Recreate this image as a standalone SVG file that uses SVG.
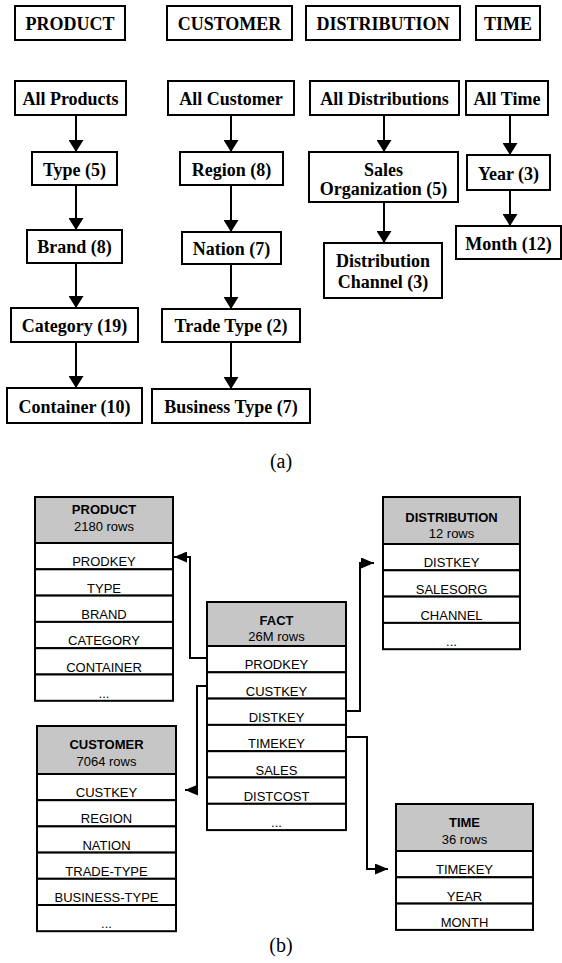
<svg xmlns="http://www.w3.org/2000/svg" width="562" height="963" viewBox="0 0 562 963">
<style>
.b{fill:#fff;stroke:#000;stroke-width:2}
.t{font-family:"Liberation Serif","Times New Roman",serif;font-weight:bold;font-size:18px;text-anchor:middle;fill:#000}
.cap{font-family:"Liberation Serif","Times New Roman",serif;font-size:20px;text-anchor:middle;fill:#000}
.h{fill:#c6c6c6;stroke:#000;stroke-width:2}
.r{fill:#fff;stroke:#000;stroke-width:2}
.s{font-family:"Liberation Sans",Arial,sans-serif;font-size:13px;text-anchor:middle;fill:#000}
.sb{font-weight:bold}
.c{fill:none;stroke:#000;stroke-width:2}
.ca{fill:none;stroke:#000;stroke-width:2;marker-end:url(#ah)}
.cb{fill:none;stroke:#000;stroke-width:2;marker-end:url(#bh)}
</style>
<defs>
<marker id="ah" markerUnits="userSpaceOnUse" viewBox="0 0 12 15" markerWidth="12" markerHeight="15" refX="12" refY="7.5" orient="auto">
<path d="M0,0 L12,7.5 L0,15 Z" fill="#000"/>
</marker>
<marker id="bh" markerUnits="userSpaceOnUse" viewBox="0 0 13 11" markerWidth="13" markerHeight="11" refX="13" refY="5.5" orient="auto">
<path d="M0,0 L13,5.5 L0,11 Z" fill="#000"/>
</marker>
</defs>
<rect width="562" height="963" fill="#fff"/>

<!-- (a) dimension hierarchies -->
<g id="hdr-product"><rect class="b" x="15" y="6" width="110" height="34"/><text class="t" x="70" y="30">PRODUCT</text></g>
<g id="hdr-customer"><rect class="b" x="167" y="6" width="125" height="34"/><text class="t" x="229.5" y="30">CUSTOMER</text></g>
<g id="hdr-distribution"><rect class="b" x="306" y="6" width="154" height="34"/><text class="t" x="383" y="30">DISTRIBUTION</text></g>
<g id="hdr-time"><rect class="b" x="476" y="6" width="64" height="34"/><text class="t" x="508" y="30">TIME</text></g>

<g id="all-products"><rect class="b" x="15" y="81" width="111" height="34"/><text class="t" x="70.5" y="105">All Products</text></g>
<g id="all-customer"><rect class="b" x="168" y="81" width="126" height="34"/><text class="t" x="231" y="105">All Customer</text></g>
<g id="all-distributions"><rect class="b" x="310" y="81" width="149" height="34"/><text class="t" x="384.5" y="105">All Distributions</text></g>
<g id="all-time"><rect class="b" x="466" y="81" width="82" height="34"/><text class="t" x="507" y="105">All Time</text></g>

<g id="type"><rect class="b" x="32" y="152" width="85" height="33"/><text class="t" x="74.5" y="176">Type (5)</text></g>
<g id="region"><rect class="b" x="180" y="152" width="103" height="33"/><text class="t" x="231.5" y="176">Region (8)</text></g>
<g id="sales-org"><rect class="b" x="309" y="152" width="149" height="50"/><text class="t" x="383.5" y="176">Sales</text><text class="t" x="383.5" y="195">Organization (5)</text></g>
<g id="year"><rect class="b" x="467" y="155" width="83" height="35"/><text class="t" x="508.5" y="180">Year (3)</text></g>

<g id="brand"><rect class="b" x="27" y="230" width="95" height="33"/><text class="t" x="74.5" y="253">Brand (8)</text></g>
<g id="nation"><rect class="b" x="182" y="232" width="99" height="32"/><text class="t" x="231.5" y="255">Nation (7)</text></g>
<g id="dist-channel"><rect class="b" x="324" y="243" width="118" height="55"/><text class="t" x="383" y="267">Distribution</text><text class="t" x="383" y="288">Channel (3)</text></g>
<g id="month"><rect class="b" x="456" y="226" width="105" height="33"/><text class="t" x="508.5" y="250">Month (12)</text></g>

<g id="category"><rect class="b" x="11" y="308" width="127" height="34"/><text class="t" x="74.5" y="332">Category (19)</text></g>
<g id="trade-type"><rect class="b" x="162" y="309" width="138" height="33"/><text class="t" x="231" y="332">Trade Type (2)</text></g>

<g id="container"><rect class="b" x="7" y="388" width="135" height="35"/><text class="t" x="74.5" y="413">Container (10)</text></g>
<g id="business-type"><rect class="b" x="152" y="389" width="158" height="34"/><text class="t" x="231" y="413">Business Type (7)</text></g>

<text class="cap" x="281" y="468">(a)</text>

<!-- (b) star schema -->
<g id="t-product">
<rect class="h" x="35" y="497" width="138" height="46"/>
<text class="s sb" x="104" y="514">PRODUCT</text>
<text class="s" x="104" y="531">2180 rows</text>
<rect class="r" x="35" y="543" width="138" height="26.3"/><text class="s" x="104" y="566.3">PRODKEY</text>
<rect class="r" x="35" y="569.3" width="138" height="26.3"/><text class="s" x="104" y="592.6">TYPE</text>
<rect class="r" x="35" y="595.6" width="138" height="26.3"/><text class="s" x="104" y="618.9">BRAND</text>
<rect class="r" x="35" y="621.9" width="138" height="26.3"/><text class="s" x="104" y="645.2">CATEGORY</text>
<rect class="r" x="35" y="648.2" width="138" height="26.3"/><text class="s" x="104" y="671.5">CONTAINER</text>
<rect class="r" x="35" y="674.5" width="138" height="26.3"/><text class="s" x="104" y="697.8">...</text>
</g>

<g id="t-distribution">
<rect class="h" x="383" y="497" width="137" height="47"/>
<text class="s sb" x="451.5" y="522">DISTRIBUTION</text>
<text class="s" x="451.5" y="538">12 rows</text>
<rect class="r" x="383" y="544" width="137" height="26.3"/><text class="s" x="451.5" y="567.3">DISTKEY</text>
<rect class="r" x="383" y="570.3" width="137" height="26.3"/><text class="s" x="451.5" y="593.6">SALESORG</text>
<rect class="r" x="383" y="596.6" width="137" height="26.3"/><text class="s" x="451.5" y="619.9">CHANNEL</text>
<rect class="r" x="383" y="622.9" width="137" height="26.3"/><text class="s" x="451.5" y="646.2">...</text>
</g>

<g id="t-fact">
<rect class="h" x="207" y="602" width="139" height="44"/>
<text class="s sb" x="276.5" y="625">FACT</text>
<text class="s" x="276.5" y="641">26M rows</text>
<rect class="r" x="207" y="646" width="139" height="26.3"/><text class="s" x="276.5" y="669.3">PRODKEY</text>
<rect class="r" x="207" y="672.3" width="139" height="26.3"/><text class="s" x="276.5" y="695.6">CUSTKEY</text>
<rect class="r" x="207" y="698.6" width="139" height="26.3"/><text class="s" x="276.5" y="721.9">DISTKEY</text>
<rect class="r" x="207" y="724.9" width="139" height="26.3"/><text class="s" x="276.5" y="748.2">TIMEKEY</text>
<rect class="r" x="207" y="751.2" width="139" height="26.3"/><text class="s" x="276.5" y="774.5">SALES</text>
<rect class="r" x="207" y="777.5" width="139" height="26.3"/><text class="s" x="276.5" y="800.8">DISTCOST</text>
<rect class="r" x="207" y="803.8" width="139" height="26.3"/><text class="s" x="276.5" y="827.1">...</text>
</g>

<g id="t-customer">
<rect class="h" x="37" y="726" width="139" height="48"/>
<text class="s sb" x="106.5" y="749">CUSTOMER</text>
<text class="s" x="106.5" y="766">7064 rows</text>
<rect class="r" x="37" y="774" width="139" height="26.2"/><text class="s" x="106.5" y="797.2">CUSTKEY</text>
<rect class="r" x="37" y="800.2" width="139" height="26.2"/><text class="s" x="106.5" y="823.4">REGION</text>
<rect class="r" x="37" y="826.4" width="139" height="26.2"/><text class="s" x="106.5" y="849.6">NATION</text>
<rect class="r" x="37" y="852.6" width="139" height="26.2"/><text class="s" x="106.5" y="875.8">TRADE-TYPE</text>
<rect class="r" x="37" y="878.8" width="139" height="26.2"/><text class="s" x="106.5" y="902">BUSINESS-TYPE</text>
<rect class="r" x="37" y="905" width="139" height="26.2"/><text class="s" x="106.5" y="928.2">...</text>
</g>

<g id="t-time">
<rect class="h" x="396" y="804" width="137" height="47"/>
<text class="s sb" x="464.5" y="827">TIME</text>
<text class="s" x="464.5" y="844">36 rows</text>
<rect class="r" x="396" y="851" width="137" height="26.3"/><text class="s" x="464.5" y="874.3">TIMEKEY</text>
<rect class="r" x="396" y="877.3" width="137" height="26.3"/><text class="s" x="464.5" y="900.6">YEAR</text>
<rect class="r" x="396" y="903.6" width="137" height="26.3"/><text class="s" x="464.5" y="926.9">MONTH</text>
</g>

<text class="cap" x="281" y="952">(b)</text>

<g id="connectors">
<line class="ca" x1="76" y1="115" x2="76" y2="152"/>
<line class="ca" x1="76" y1="185" x2="76" y2="230"/>
<line class="ca" x1="76" y1="263" x2="76" y2="308"/>
<line class="ca" x1="76" y1="342" x2="76" y2="388"/>
<line class="ca" x1="231" y1="115" x2="231" y2="152"/>
<line class="ca" x1="231" y1="185" x2="231" y2="232"/>
<line class="ca" x1="231" y1="264" x2="231" y2="309"/>
<line class="ca" x1="231" y1="342" x2="231" y2="389"/>
<line class="ca" x1="384" y1="115" x2="384" y2="152"/>
<line class="ca" x1="384" y1="202" x2="384" y2="243"/>
<line class="ca" x1="510" y1="115" x2="510" y2="155"/>
<line class="ca" x1="510" y1="190" x2="510" y2="226"/>
<path class="cb" d="M207,658 H190 V557 H174"/>
<path class="cb" d="M207,686 H197 V790 H185"/>
<path class="cb" d="M346,711 H360 V563 H374"/>
<path class="cb" d="M346,737 H367 V869 H388"/>
</g>
</svg>
